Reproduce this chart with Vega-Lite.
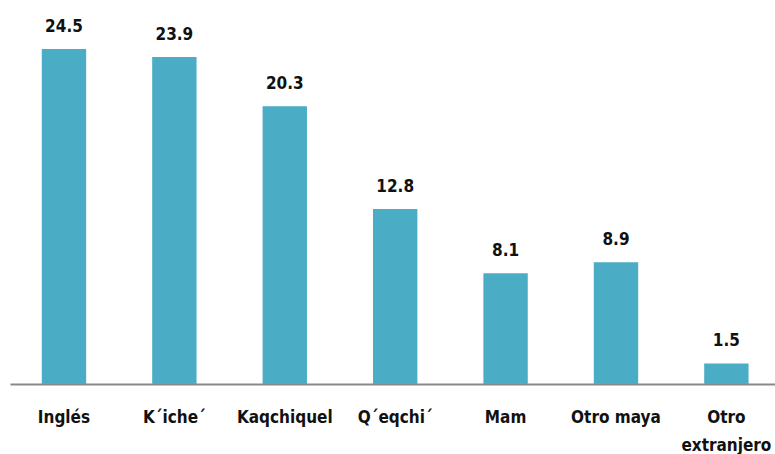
{
  "$schema": "https://vega.github.io/schema/vega-lite/v6.json",
  "autosize": "none",
  "width": 765,
  "height": 383,
  "padding": {"left": 10, "top": 1, "right": 0, "bottom": 70},
  "background": "white",
  "config": {"view": {"stroke": null}, "font": "DejaVu Sans Condensed"},
  "data": {
    "values": [
      {"idioma": "Inglés", "valor": 24.5},
      {"idioma": "K´iche´", "valor": 23.9},
      {"idioma": "Kaqchiquel", "valor": 20.3},
      {"idioma": "Q´eqchi´", "valor": 12.8},
      {"idioma": "Mam", "valor": 8.1},
      {"idioma": "Otro maya", "valor": 8.9},
      {"idioma": "Otro extranjero", "valor": 1.5}
    ]
  },
  "encoding": {
    "x": {
      "field": "idioma",
      "type": "nominal",
      "sort": null,
      "scale": {"paddingInner": 0.598, "paddingOuter": 0.2636, "align": 0.546},
      "axis": {
        "title": null,
        "labelAngle": 0,
        "ticks": false,
        "tickSize": 0,
        "domainColor": "#898989",
        "domainWidth": 2,
        "labelFont": "DejaVu Sans Condensed",
        "labelFontWeight": "bold",
        "labelFontSize": 17,
        "labelColor": "#111111",
        "labelBaseline": "alphabetic",
        "labelPadding": 38,
        "labelLineHeight": 28,
        "labelExpr": "datum.label == 'Otro extranjero' ? ['Otro', 'extranjero'] : datum.label"
      }
    },
    "y": {
      "field": "valor",
      "type": "quantitative",
      "scale": {"domain": [0, 28], "nice": false},
      "axis": null
    }
  },
  "layer": [
    {"mark": {"type": "bar", "color": "#4BACC6"}},
    {
      "mark": {
        "type": "text",
        "baseline": "alphabetic",
        "dy": -17,
        "font": "DejaVu Sans Condensed",
        "fontWeight": "bold",
        "fontSize": 17,
        "color": "#111111"
      },
      "encoding": {"text": {"field": "valor", "type": "quantitative", "format": ".1f"}}
    }
  ]
}
